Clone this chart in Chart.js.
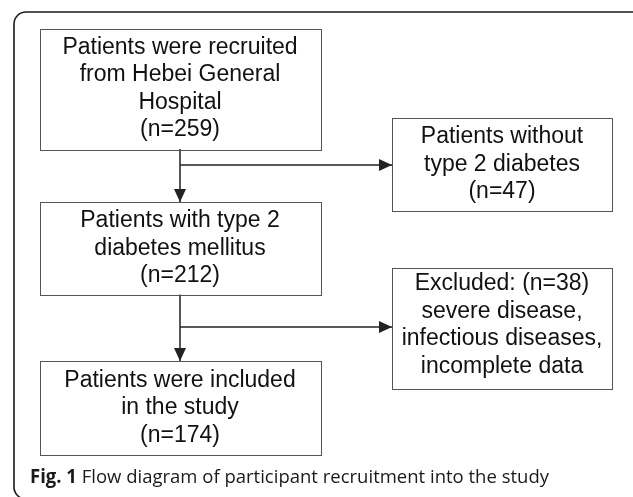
<!DOCTYPE html>
<html>
<head>
<meta charset="utf-8">
<script src="https://cdn.jsdelivr.net/npm/chart.js@4.4.1/dist/chart.umd.min.js"></script>
<style>
  html, body { margin: 0; padding: 0; background: #fff; }
  #wrap { width: 633px; height: 497px; position: relative; }
</style>
</head>
<body>
<div id="wrap"><canvas id="flow"></canvas></div>
<script>
// flow diagram data
var stageLabels = [
  ["Patients were recruited", "from Hebei General", "Hospital"],
  ["Patients with type 2", "diabetes mellitus"],
  ["Patients were included", "in the study"]
];
var stageCounts = [259, 212, 174];

var exclusionLabels = [
  ["Patients without", "type 2 diabetes"],
  ["severe disease,", "infectious diseases,", "incomplete data"]
];
var exclusionCounts = [47, 38];
var exclusionPrefix = ["", "Excluded: "];  // second box puts the count on the first line

var captionBold = "Fig. 1";
var captionText = " Flow diagram of participant recruitment into the study";

// layout, in scale units (x 0..633, y 0..497 top-down)
var mainCol = { x0: 39.5, x1: 320.5 };
var sideCol = { x0: 392, x1: 612 };
var mainRows = [[28.5, 149], [202, 294.5], [361, 454.5]];
var sideRows = [[118, 211], [267.5, 388.5]];
var branchY = [165, 327];
var lineH = 27.5;

function stageLines(i) {
  return stageLabels[i].concat(["(n=" + stageCounts[i] + ")"]);
}
function exclusionLines(i) {
  if (exclusionPrefix[i]) {
    return [exclusionPrefix[i] + "(n=" + exclusionCounts[i] + ")"].concat(exclusionLabels[i]);
  }
  return exclusionLabels[i].concat(["(n=" + exclusionCounts[i] + ")"]);
}

var trunkX = (mainCol.x0 + mainCol.x1) / 2;

// connectors as line datasets
var connectorSets = [];
for (var i = 0; i < 2; i++) {
  connectorSets.push({
    data: [{ x: trunkX, y: mainRows[i][1] }, { x: trunkX, y: mainRows[i + 1][0] }],
    showLine: true, borderColor: "#222", borderWidth: 1.5, pointRadius: 0, arrow: "down"
  });
  connectorSets.push({
    data: [{ x: trunkX, y: branchY[i] }, { x: sideCol.x0, y: branchY[i] }],
    showLine: true, borderColor: "#222", borderWidth: 1.5, pointRadius: 0, arrow: "right"
  });
}

var flowPlugin = {
  id: "flow",
  beforeDraw: function(chart) {
    var ctx = chart.ctx;
    ctx.save();
    ctx.fillStyle = "#fff";
    ctx.fillRect(0, 0, chart.width, chart.height);
    // outer rounded frame
    ctx.strokeStyle = "#1a1a1a";
    ctx.lineWidth = 1.6;
    ctx.beginPath();
    ctx.roundRect(14, 12, 650, 487, 12);
    ctx.stroke();
    ctx.restore();
  },
  afterDatasetsDraw: function(chart) {
    var ctx = chart.ctx, xs = chart.scales.x, ys = chart.scales.y;
    ctx.save();

    function box(col, row, lines, shift) {
      var x0 = xs.getPixelForValue(col.x0), x1 = xs.getPixelForValue(col.x1);
      var y0 = ys.getPixelForValue(row[0]), y1 = ys.getPixelForValue(row[1]);
      ctx.strokeStyle = "#555";
      ctx.lineWidth = 1;
      ctx.strokeRect(Math.round(x0) + 0.5, Math.round(y0) + 0.5, Math.round(x1 - x0), Math.round(y1 - y0));
      ctx.fillStyle = "#111";
      ctx.font = "23px 'Liberation Sans', Arial, sans-serif";
      ctx.textAlign = "center";
      ctx.textBaseline = "middle";
      var cx = (x0 + x1) / 2, cy = (y0 + y1) / 2 + (shift || 0);
      var start = cy - (lines.length - 1) * lineH / 2;
      lines.forEach(function(t, k) { ctx.fillText(t, cx, start + k * lineH + 1); });
    }

    for (var i = 0; i < stageLabels.length; i++) box(mainCol, mainRows[i], stageLines(i), -1);
    for (var j = 0; j < exclusionLabels.length; j++) box(sideCol, sideRows[j], exclusionLines(j), j === 1 ? -4 : -1);

    // arrowheads
    ctx.fillStyle = "#222";
    chart.data.datasets.forEach(function(ds) {
      var p = ds.data[ds.data.length - 1];
      var px = xs.getPixelForValue(p.x), py = ys.getPixelForValue(p.y);
      ctx.beginPath();
      if (ds.arrow === "down") {
        ctx.moveTo(px, py); ctx.lineTo(px - 6, py - 13); ctx.lineTo(px + 6, py - 13);
      } else {
        ctx.moveTo(px, py); ctx.lineTo(px - 13, py - 6); ctx.lineTo(px - 13, py + 6);
      }
      ctx.closePath();
      ctx.fill();
    });

    // caption
    var bold = "bold 19px 'Open Sans', sans-serif", reg = "19px 'Open Sans', sans-serif";
    ctx.font = bold;
    var wb = ctx.measureText(captionBold).width;
    ctx.font = reg;
    var wr = ctx.measureText(captionText).width;
    var sx = 519 / (wb + wr);
    ctx.translate(30, 483);
    ctx.scale(sx, 1);
    ctx.textAlign = "left";
    ctx.textBaseline = "alphabetic";
    ctx.fillStyle = "#1a1a1a";
    ctx.font = bold;
    ctx.fillText(captionBold, 0, 0);
    ctx.font = reg;
    ctx.fillText(captionText, wb, 0);
    ctx.restore();
  }
};

new Chart(document.getElementById("flow"), {
  type: "scatter",
  data: { datasets: connectorSets },
  options: {
    responsive: true,
    maintainAspectRatio: false,
    animation: false,
    layout: { padding: 0 },
    plugins: { legend: { display: false }, tooltip: { enabled: false } },
    scales: {
      x: { type: "linear", min: 0, max: 633, display: false },
      y: { type: "linear", min: 0, max: 497, reverse: true, display: false }
    }
  },
  plugins: [flowPlugin]
});
</script>
</body>
</html>
